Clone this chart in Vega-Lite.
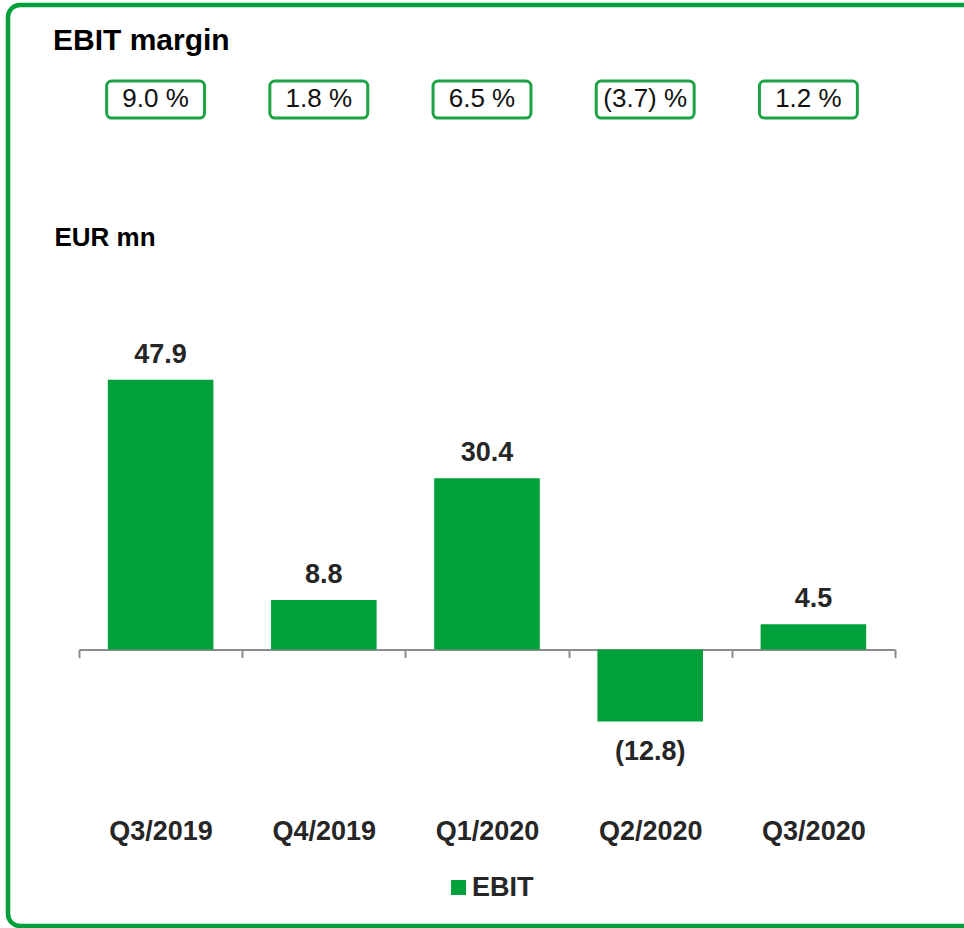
{
  "$schema": "https://vega.github.io/schema/vega-lite/v6.json",
  "width": 1000,
  "height": 921,
  "autosize": {"type": "none"},
  "padding": {"left": 8, "top": 5, "right": -44, "bottom": 2},
  "background": "white",
  "title": {"text": "EBIT margin", "anchor": "start", "frame": "group", "orient": "top", "baseline": "alphabetic", "offset": 0, "dy": 75, "dx": 45, "font": "Liberation Sans", "fontSize": 30, "fontWeight": "bold", "color": "#000000"},
  "data": {"values": [
    {"quarter": "Q3/2019", "ebit": 47.9, "label": "47.9", "margin": "9.0 %", "series": "EBIT"},
    {"quarter": "Q4/2019", "ebit": 8.8, "label": "8.8", "margin": "1.8 %", "series": "EBIT"},
    {"quarter": "Q1/2020", "ebit": 30.4, "label": "30.4", "margin": "6.5 %", "series": "EBIT"},
    {"quarter": "Q2/2020", "ebit": -12.8, "label": "(12.8)", "margin": "(3.7) %", "series": "EBIT"},
    {"quarter": "Q3/2020", "ebit": 4.5, "label": "4.5", "margin": "1.2 %", "series": "EBIT"}
  ]},
  "encoding": {
    "x": {"field": "quarter", "type": "nominal", "sort": null,
      "scale": {"type": "band", "range": [71, 887], "paddingInner": 0, "paddingOuter": 0},
      "axis": {"orient": "bottom", "offset": -276.5, "title": null, "labelAngle": 0, "domainColor": "#8c8c8c", "domainWidth": 2, "tickColor": "#8c8c8c", "tickWidth": 2, "tickSize": 8, "tickBand": "extent", "labelPadding": 161, "labelFont": "Liberation Sans", "labelFontSize": 27, "labelFontWeight": "bold", "labelColor": "#262626", "grid": false}}
  },
  "layer": [
    {
      "mark": {"type": "bar", "width": {"band": 0.647}},
      "encoding": {
        "y": {"field": "ebit", "type": "quantitative",
          "scale": {"domain": [-49.11, 114.48], "nice": false, "zero": false},
          "axis": {"orient": "left", "domain": false, "ticks": false, "labels": false, "grid": false, "title": "EUR mn", "titleAngle": 0, "titleAlign": "left", "titleBaseline": "alphabetic", "titleX": 46, "titleY": 240, "titleFont": "Liberation Sans", "titleFontSize": 26, "titleFontWeight": "bold", "titleColor": "#000000"}},
        "y2": {"datum": 0},
        "color": {"field": "series", "type": "nominal", "scale": {"range": ["#00A13B"]},
          "legend": {"orient": "none", "legendX": 437, "legendY": 869, "title": null, "symbolType": "square", "symbolSize": 225, "symbolStrokeWidth": 0, "labelFont": "Liberation Sans", "labelFontSize": 27, "labelFontWeight": "bold", "labelColor": "#262626", "labelOffset": 0, "padding": 0}}
      }
    },
    {
      "transform": [{"filter": "datum.ebit >= 0"}],
      "mark": {"type": "text", "baseline": "alphabetic", "dy": -17, "font": "Liberation Sans", "fontSize": 27, "fontWeight": "bold", "color": "#262626"},
      "encoding": {"y": {"field": "ebit", "type": "quantitative"}, "text": {"field": "label"}}
    },
    {
      "transform": [{"filter": "datum.ebit < 0"}],
      "mark": {"type": "text", "baseline": "alphabetic", "dy": 38, "font": "Liberation Sans", "fontSize": 27, "fontWeight": "bold", "color": "#262626"},
      "encoding": {"y": {"field": "ebit", "type": "quantitative"}, "text": {"field": "label"}}
    },
    {
      "mark": {"type": "bar", "fill": "white", "stroke": "#1DA345", "strokeWidth": 3, "cornerRadius": 5, "width": {"band": 0.6}, "xOffset": -5},
      "encoding": {"y": {"datum": 100.98}, "y2": {"datum": 94.4}}
    },
    {
      "mark": {"type": "text", "baseline": "middle", "xOffset": -5, "font": "Liberation Sans", "fontSize": 26, "color": "#111111"},
      "encoding": {"y": {"datum": 97.7}, "text": {"field": "margin"}}
    }
  ],
  "config": {
    "view": {"stroke": "#00A13B", "strokeWidth": 4.5, "cornerRadius": 12},
    "font": "Liberation Sans"
  }
}
